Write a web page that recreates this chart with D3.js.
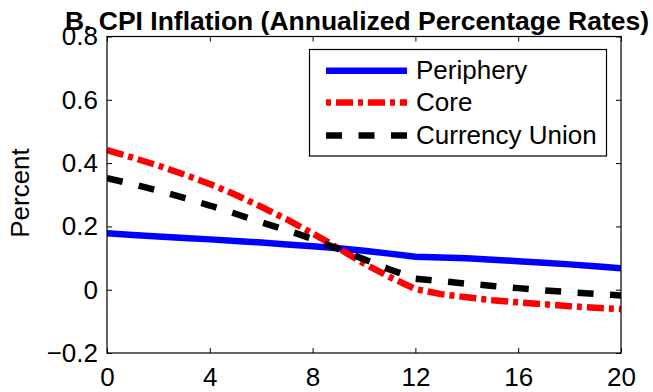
<!DOCTYPE html>
<html>
<head>
<meta charset="utf-8">
<script src="https://cdn.jsdelivr.net/npm/d3@7"></script>
<style>
  html, body { margin: 0; padding: 0; background: #fff; }
  svg { display: block; font-family: "Liberation Sans", Arial, Helvetica, sans-serif; }
</style>
</head>
<body>
<svg id="chart" width="653" height="392"></svg>
<script>
// Quarters after the shock
const quarters = d3.range(0, 21);

// CPI inflation responses, annualized percent
const periphery = [0.178, 0.173, 0.168, 0.163, 0.159, 0.154, 0.149, 0.143, 0.137, 0.131,
                   0.123, 0.114, 0.104, 0.102, 0.099, 0.095, 0.090, 0.085, 0.080, 0.074, 0.068];
const core = [0.441, 0.417, 0.392, 0.364, 0.334, 0.300, 0.262, 0.222, 0.178, 0.131,
              0.083, 0.040, 0.002, -0.014, -0.024, -0.033, -0.040, -0.046, -0.052, -0.057, -0.061];
const currencyUnion = [0.352, 0.334, 0.313, 0.290, 0.266, 0.240, 0.213, 0.188, 0.160, 0.129,
                       0.096, 0.064, 0.035, 0.027, 0.019, 0.012, 0.005, -0.002, -0.008, -0.013, -0.018];

const seriesNames = ["Periphery", "Core", "Currency Union"];
const xTicks = [0, 4, 8, 12, 16, 20];
const yTicks = [-0.2, 0, 0.2, 0.4, 0.6, 0.8];
const yTickLabels = ["\u22120.2", "0", "0.2", "0.4", "0.6", "0.8"];

const titleText = "B. CPI Inflation (Annualized Percentage Rates)";
const yAxisTitle = "Percent";

const styles = [
  { color: "#0000ff", dash: null },
  { color: "#ff0000", dash: "17,5,5,5", legendOffset: 22 },
  { color: "#000000", dash: "16,16.5" }
];

const svg = d3.select("#chart");
const box = { left: 107, right: 621, top: 36.5, bottom: 353 };

const x = d3.scaleLinear().domain([0, 20]).range([box.left, box.right]);
const y = d3.scaleLinear().domain([-0.2, 0.8]).range([box.bottom, box.top]);

const fontSize = 26;

// series lines
const line = d3.line().x((d, i) => x(quarters[i])).y(d => y(d));
const data = [periphery, core, currencyUnion];

svg.append("defs").append("clipPath").attr("id", "plotClip")
  .append("rect")
  .attr("x", box.left).attr("y", box.top)
  .attr("width", box.right - box.left).attr("height", box.bottom - box.top);

const plot = svg.append("g").attr("clip-path", "url(#plotClip)");
data.forEach((vals, k) => {
  plot.append("path")
    .datum(vals)
    .attr("d", line)
    .attr("fill", "none")
    .attr("stroke", styles[k].color)
    .attr("stroke-width", 6.5)
    .attr("stroke-linejoin", "round")
    .attr("stroke-dasharray", styles[k].dash);
});

// axes: ticks pointing inward on all four sides
function styleAxis(g) {
  g.select(".domain").remove();
  g.selectAll(".tick line").attr("stroke", "#000").attr("stroke-width", 1);
  g.selectAll(".tick text").attr("fill", "#000").style("font-size", fontSize + "px")
    .style("font-family", "\"Liberation Sans\", Arial, sans-serif");
}

svg.append("g")
  .attr("transform", `translate(0,${box.bottom})`)
  .call(d3.axisBottom(x).tickValues(xTicks).tickFormat(d3.format("d")).tickSize(-5).tickSizeOuter(0).tickPadding(15))
  .call(styleAxis);

svg.append("g")
  .attr("transform", `translate(0,${box.top})`)
  .call(d3.axisTop(x).tickValues(xTicks).tickFormat("").tickSize(-5).tickSizeOuter(0))
  .call(styleAxis);

svg.append("g")
  .attr("transform", `translate(${box.left},0)`)
  .call(d3.axisLeft(y).tickValues(yTicks).tickFormat((d, i) => yTickLabels[i]).tickSize(-5).tickSizeOuter(0).tickPadding(9))
  .call(styleAxis);

svg.append("g")
  .attr("transform", `translate(${box.right},0)`)
  .call(d3.axisRight(y).tickValues(yTicks).tickFormat("").tickSize(-5).tickSizeOuter(0))
  .call(styleAxis);

// axes box
svg.append("rect")
  .attr("x", box.left).attr("y", box.top)
  .attr("width", box.right - box.left).attr("height", box.bottom - box.top)
  .attr("fill", "none").attr("stroke", "#000").attr("stroke-width", 1.2);

// y axis title
svg.append("text")
  .attr("transform", `translate(29,193) rotate(-90)`)
  .attr("text-anchor", "middle")
  .style("font-size", fontSize + "px")
  .text(yAxisTitle);

// chart title
svg.append("text")
  .attr("x", 65).attr("y", 29.5)
  .attr("textLength", 584)
  .attr("lengthAdjust", "spacingAndGlyphs")
  .style("font-size", "26.5px")
  .style("font-weight", "bold")
  .text(titleText);

// legend
const legend = svg.append("g");
legend.append("rect")
  .attr("x", 309.5).attr("y", 49.5)
  .attr("width", 297).attr("height", 106.5)
  .attr("fill", "#fff").attr("stroke", "#000").attr("stroke-width", 1.2);

const legendRows = [70.7, 102.5, 135.5];
seriesNames.forEach((name, k) => {
  const ly = legendRows[k];
  legend.append("line")
    .attr("x1", 326).attr("x2", 407)
    .attr("y1", ly).attr("y2", ly)
    .attr("stroke", styles[k].color)
    .attr("stroke-width", 6.5)
    .attr("stroke-dasharray", styles[k].dash)
    .attr("stroke-dashoffset", styles[k].legendOffset || 0);
  legend.append("text")
    .attr("x", 416).attr("y", ly + 8)
    .style("font-size", fontSize + "px")
    .text(name);
});
</script>
</body>
</html>
